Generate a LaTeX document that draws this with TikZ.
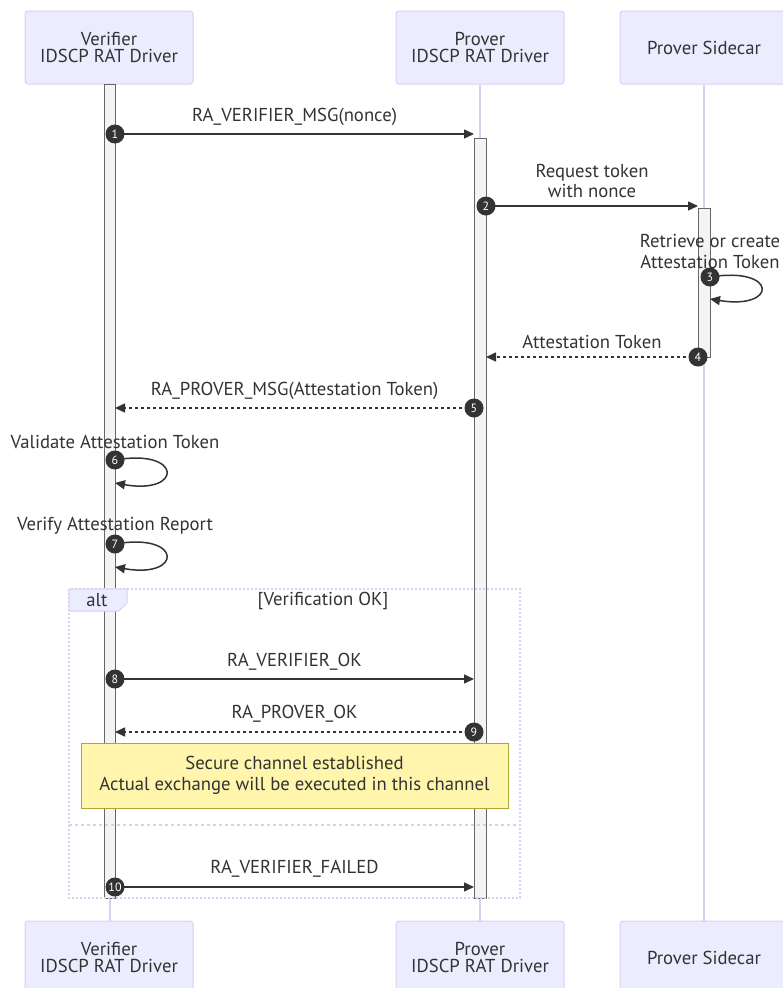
\documentclass[tikz,border=0pt]{standalone}
\usepackage{fontspec}
\setmainfont{PT Sans}
\usetikzlibrary{arrows.meta}

\definecolor{actorfill}{HTML}{ECECFF}
\definecolor{actorline}{HTML}{D9CFF2}
\definecolor{ink}{HTML}{333333}
\definecolor{actfill}{HTML}{F4F4F4}
\definecolor{actline}{HTML}{666666}
\definecolor{notefill}{HTML}{FFF5AD}
\definecolor{noteline}{HTML}{AAAA33}

\tikzset{
  actor/.style={draw=actorline, fill=actorfill, rounded corners=3pt, line width=1pt,
    minimum width=168pt, minimum height=73pt, align=center, text=ink,
    font=\fontsize{18.7}{17.5}\selectfont},
  lifeline/.style={draw=actorline, line width=2pt},
  activation/.style={draw=actline, fill=actfill, line width=1pt},
  msg/.style={draw=ink, line width=1.5pt, -{Triangle[length=10pt,width=9pt]}},
  reply/.style={msg, dash pattern=on 3pt off 3pt},
  seqno/.style={circle, fill=ink, text=white, inner sep=0pt, minimum size=19pt,
    font=\fontsize{12}{12}\selectfont},
  lbl/.style={text=ink, align=center, inner sep=0pt, font=\fontsize{18.7}{20}\selectfont},
  frameline/.style={draw=actorline, line width=2pt, dash pattern=on 2pt off 2pt},
  notebox/.style={draw=noteline, fill=notefill, line width=1pt, align=center, text=ink,
    minimum width=427pt, minimum height=65pt, font=\fontsize{18.7}{21}\selectfont}
}

\begin{document}
\begin{tikzpicture}[x=1pt, y=-1pt]
\useasboundingbox (0,0) rectangle (782,988);

% participants, top and bottom
\node[actor] (verT) at (109,47.5)  {Verifier\\IDSCP RAT Driver};
\node[actor] (proT) at (480,47.5)  {Prover\\IDSCP RAT Driver};
\node[actor] (sidT) at (704,47.5)  {Prover Sidecar};
\node[actor] (verB) at (109,957.5) {Verifier\\IDSCP RAT Driver};
\node[actor] (proB) at (480,957.5) {Prover\\IDSCP RAT Driver};
\node[actor] (sidB) at (704,957.5) {Prover Sidecar};

% lifelines
\draw[lifeline] ([xshift=1pt]verT.south) -- ([xshift=1pt]verB.north);
\draw[lifeline] (proT.south) -- (proB.north);
\draw[lifeline] (sidT.south) -- (sidB.north);

% activation bars
\draw[activation] (104,84) rectangle (115,898);
\draw[activation] (474,138) rectangle (486,898);
\draw[activation] (698,208) rectangle (710,357);

% alt frame
\draw[frameline] (69,589) rectangle (520,898);
\draw[frameline, dash pattern=on 3pt off 3pt] (69,825) -- (520,825);
\draw[draw=actorline, fill=actorfill, line width=1pt]
  (69,589) -- (127,589) -- (127,603) -- (119,611) -- (69,611) -- cycle;
\node[lbl] (altlbl) at (97,600) {alt};
\node[lbl] (altcond) at (323,601) {[Verification OK]};

% message end points
\coordinate (s1) at (115,134);  \coordinate (e1) at (474,134);
\coordinate (s2) at (486,206);  \coordinate (e2) at (698,206);
\coordinate (s3) at (710,277);  \coordinate (e3) at (710,299);
\coordinate (s4) at (698,357);  \coordinate (e4) at (486,357);
\coordinate (s5) at (474,408);  \coordinate (e5) at (115,408);
\coordinate (s6) at (115,460);  \coordinate (e6) at (115,483);
\coordinate (s7) at (115,544);  \coordinate (e7) at (115,567);
\coordinate (s8) at (115,679);  \coordinate (e8) at (474,679);
\coordinate (s9) at (474,732);  \coordinate (e9) at (115,732);
\coordinate (s10) at (115,887); \coordinate (e10) at (474,887);

% messages
\draw[msg]   (s1) -- (e1);
\draw[msg]   (s2) -- (e2);
\draw[msg]   (s3) .. controls +(68,-11) and +(68,11) .. (e3);
\draw[reply] (s4) -- (e4);
\draw[reply] (s5) -- (e5);
\draw[msg]   (s6) .. controls +(68,-12) and +(68,12) .. (e6);
\draw[msg]   (s7) .. controls +(68,-12) and +(68,12) .. (e7);
\draw[msg]   (s8) -- (e8);
\draw[reply] (s9) -- (e9);
\draw[msg]   (s10) -- (e10);

% message texts
\node[lbl] (t1) at (294.5,117) {RA\_VERIFIER\_MSG(nonce)};
\node[lbl] (t2) at (592,180.5) {Request token\\with nonce};
\node[lbl, font=\fontsize{18.7}{21}\selectfont] (t3) at (710,251.5) {Retrieve or create\\Attestation Token};
\node[lbl] (t4) at (592,342) {Attestation Token};
\node[lbl] (t5) at (294.5,391) {RA\_PROVER\_MSG(Attestation Token)};
\node[lbl] (t6) at (115,442) {Validate Attestation Token};
\node[lbl] (t7) at (115,526) {Verify Attestation Report};
\node[lbl] (t8) at (294.5,662) {RA\_VERIFIER\_OK};
\node[lbl] (t9) at (294.5,714) {RA\_PROVER\_OK};
\node[lbl] (t10) at (294.5,869) {RA\_VERIFIER\_FAILED};

% sequence numbers
\foreach \k in {1,...,10} \node[seqno] (n\k) at (s\k) {\k};

% note
\node[notebox] (note) at (294.5,775.5) {Secure channel established\\Actual exchange will be executed in this channel};
\end{tikzpicture}
\end{document}
